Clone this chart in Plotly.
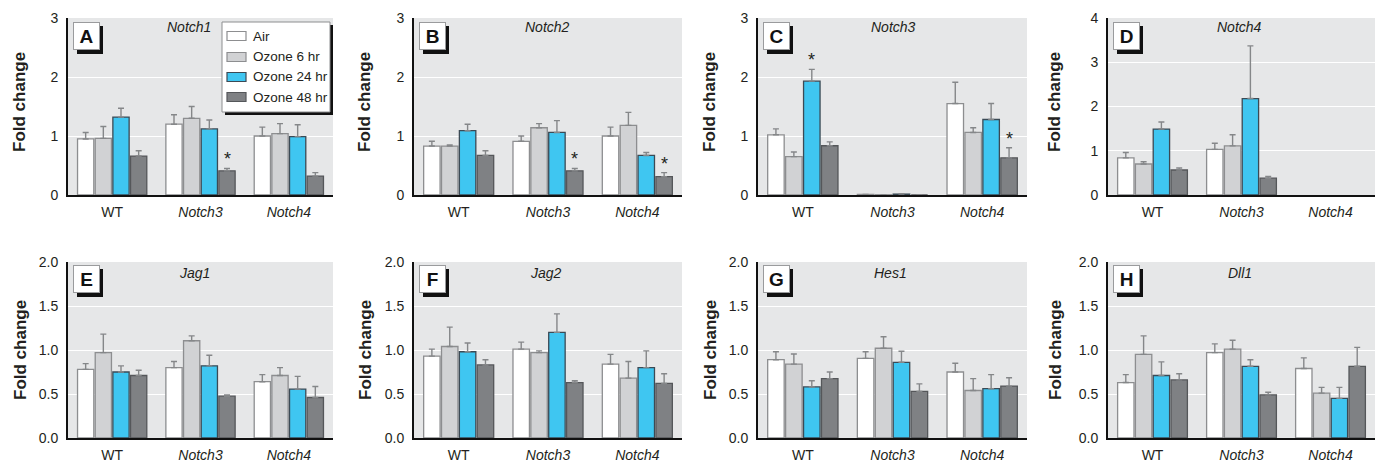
import plotly.graph_objects as go

W, H = 1383, 463

groups = ["WT", "Notch3", "Notch4"]
group_text = ["WT", "<i>Notch3</i>", "<i>Notch4</i>"]
series = ["Air", "Ozone 6 hr", "Ozone 24 hr", "Ozone 48 hr"]
fill_colors = ["#ffffff", "#d1d2d4", "#3fc6f1", "#7f8184"]
line_colors = ["#8d8e90", "#8d8e90", "#3b4a55", "#55575a"]

# rows = series (Air, 6 hr, 24 hr, 48 hr); columns = groups (WT, Notch3, Notch4)
notch1_mean = [[0.95, 1.20, 1.00], [0.96, 1.30, 1.04], [1.32, 1.12, 0.99], [0.66, 0.41, 0.32]]
notch1_sem = [[0.11, 0.16, 0.15], [0.20, 0.20, 0.17], [0.15, 0.15, 0.20], [0.09, 0.04, 0.06]]
notch2_mean = [[0.83, 0.91, 1.00], [0.83, 1.14, 1.18], [1.09, 1.06, 0.67], [0.67, 0.41, 0.31]]
notch2_sem = [[0.08, 0.09, 0.15], [0.02, 0.07, 0.22], [0.11, 0.20, 0.05], [0.08, 0.04, 0.07]]
notch3_mean = [[1.02, 0.01, 1.55], [0.65, 0.005, 1.06], [1.93, 0.015, 1.28], [0.835, 0.0, 0.63]]
notch3_sem = [[0.10, 0.0, 0.36], [0.08, 0.0, 0.08], [0.20, 0.005, 0.27], [0.065, 0.0, 0.17]]
notch4_mean = [[0.84, 1.03, None], [0.70, 1.11, None], [1.49, 2.18, None], [0.565, 0.38, None]]
notch4_sem = [[0.12, 0.14, 0], [0.05, 0.25, 0], [0.16, 1.19, 0], [0.045, 0.04, 0]]
jag1_mean = [[0.78, 0.80, 0.64], [0.97, 1.105, 0.71], [0.75, 0.82, 0.555], [0.71, 0.475, 0.46]]
jag1_sem = [[0.065, 0.07, 0.08], [0.21, 0.055, 0.09], [0.07, 0.12, 0.145], [0.06, 0.015, 0.125]]
jag2_mean = [[0.93, 1.01, 0.84], [1.04, 0.97, 0.68], [0.98, 1.20, 0.80], [0.83, 0.63, 0.62]]
jag2_sem = [[0.08, 0.08, 0.11], [0.22, 0.02, 0.19], [0.10, 0.21, 0.19], [0.06, 0.02, 0.11]]
hes1_mean = [[0.89, 0.905, 0.75], [0.84, 1.02, 0.54], [0.58, 0.86, 0.56], [0.675, 0.53, 0.59]]
hes1_sem = [[0.09, 0.075, 0.10], [0.115, 0.13, 0.135], [0.07, 0.125, 0.16], [0.075, 0.085, 0.095]]
dll1_mean = [[0.63, 0.97, 0.79], [0.95, 1.01, 0.51], [0.71, 0.815, 0.45], [0.66, 0.49, 0.815]]
dll1_sem = [[0.09, 0.10, 0.12], [0.21, 0.10, 0.065], [0.155, 0.075, 0.125], [0.07, 0.03, 0.215]]

# significance marks: (group index, series index)
notch1_sig = [(1, 3)]
notch2_sig = [(1, 3), (2, 3)]
notch3_sig = [(0, 2), (2, 3)]
none_sig = []

panel_letters = ["A", "B", "C", "D", "E", "F", "G", "H"]
panel_genes = ["Notch1", "Notch2", "Notch3", "Notch4", "Jag1", "Jag2", "Hes1", "Dll1"]
panel_means = [notch1_mean, notch2_mean, notch3_mean, notch4_mean, jag1_mean, jag2_mean, hes1_mean, dll1_mean]
panel_sems = [notch1_sem, notch2_sem, notch3_sem, notch4_sem, jag1_sem, jag2_sem, hes1_sem, dll1_sem]
panel_sigs = [notch1_sig, notch2_sig, notch3_sig, none_sig, none_sig, none_sig, none_sig, none_sig]
panel_ymax = [3, 3, 3, 4, 2, 2, 2, 2]
panel_dtick = [1, 1, 1, 1, 0.5, 0.5, 0.5, 0.5]
panel_fmt = ["d", "d", "d", "d", ".1f", ".1f", ".1f", ".1f"]

# layout geometry in pixels
col_x = [(68, 333), (414, 682), (758, 1027), (1108, 1375)]
row_y = [(18, 195), (262, 438)]
row_xtick_len = [3, 3]
ytitle_x = [20, 365, 710, 1055]
ytitle_y = [102, 350]
gene_x = [189, 547, 893, 1239, 194, 546, 890, 1240]
gene_y = [27, 273]

FONT = "Liberation Sans, Arial, sans-serif"
TXT = "#231f20"


def px(x):
    return x / W


def py(y):
    return 1 - y / H


fig = go.Figure()
annotations = []
shapes = []
layout = {}

for i in range(8):
    r, c = divmod(i, 4)
    n = i + 1
    xa = "x" if n == 1 else f"x{n}"
    ya = "y" if n == 1 else f"y{n}"
    xkey = "xaxis" if n == 1 else f"xaxis{n}"
    ykey = "yaxis" if n == 1 else f"yaxis{n}"
    x0, x1 = col_x[c]
    y0, y1 = row_y[r]
    means = panel_means[i]
    sems = panel_sems[i]
    for s in range(4):
        fig.add_trace(go.Bar(
            x=groups, y=means[s], name=series[s], xaxis=xa, yaxis=ya,
            marker=dict(color=fill_colors[s], line=dict(color=line_colors[s], width=1.3)),
            error_y=dict(type="data", symmetric=False, array=sems[s], arrayminus=[0, 0, 0],
                         color="#858789", thickness=1.4, width=3),
            showlegend=False, offsetgroup=str(s), hoverinfo="skip",
        ))
    layout[xkey] = dict(
        domain=[px(x0), px(x1)], anchor=ya, showline=True, linecolor="#111", linewidth=2,
        ticks="outside", ticklen=row_xtick_len[r], tickcolor="rgba(0,0,0,0)",
        tickmode="array", tickvals=groups, ticktext=group_text,
        showgrid=False, zeroline=False, range=[-0.5, 2.5], automargin=False,
        tickfont=dict(size=14, color=TXT, family=FONT), fixedrange=True,
    )
    layout[ykey] = dict(
        domain=[py(y1), py(y0)], anchor=xa, range=[0, panel_ymax[i]], dtick=panel_dtick[i],
        tickformat=panel_fmt[i], showline=True, linecolor="#111", linewidth=2,
        ticks="outside", ticklen=5, tickcolor="rgba(0,0,0,0)", automargin=False,
        showgrid=True, gridcolor="#ffffff", gridwidth=1.2, zeroline=False,
        tickfont=dict(size=14, color=TXT, family=FONT), fixedrange=True,
    )
    # plot background per panel
    shapes.append(dict(type="rect", xref="paper", yref="paper", x0=px(x0), x1=px(x1),
                       y0=py(y1), y1=py(y0), fillcolor="#e6e7e8", line=dict(width=0), layer="below"))
    # gene name
    annotations.append(dict(x=px(gene_x[i]), y=py(gene_y[r]), xref="paper", yref="paper",
                            xanchor="center", yanchor="middle",
                            text=f"<i>{panel_genes[i]}</i>", showarrow=False,
                            font=dict(size=14, color=TXT, family=FONT)))
    # y axis title
    annotations.append(dict(x=px(ytitle_x[c]), y=py(ytitle_y[r]), xref="paper", yref="paper",
                            xanchor="center", yanchor="middle",
                            text="<b>Fold change</b>", textangle=-90, showarrow=False,
                            font=dict(size=17, color=TXT, family=FONT)))
    # panel letter box with shadow
    bx0 = x0 + 5
    by0 = y0 + (4 if r == 0 else 3)
    shapes.append(dict(type="rect", xref="paper", yref="paper", x0=px(bx0 + 4), x1=px(bx0 + 30),
                       y0=py(by0 + 32), y1=py(by0 + 4), fillcolor="#111", line=dict(width=0),
                       layer="above"))
    annotations.append(dict(x=px(bx0 + 13.5), y=py(by0 + 14), xref="paper", yref="paper",
                            xanchor="center", yanchor="middle",
                            text=f"<b>{panel_letters[i]}</b>", showarrow=False,
                            width=25, height=26, bgcolor="#ffffff", bordercolor="#9a9b9d",
                            borderwidth=1, borderpad=0,
                            font=dict(size=19, color="#111", family=FONT)))
    # significance stars
    for (g, s) in panel_sigs[i]:
        top = means[s][g] + sems[s][g]
        annotations.append(dict(x=g - 0.3 + 0.2 * s, y=top, xref=xa, yref=ya, text="*",
                                showarrow=False, xanchor="center", yanchor="bottom", yshift=-3,
                                font=dict(size=18, color=TXT, family=FONT)))

# manual legend in panel A
leg_x0, leg_x1, leg_y0, leg_y1 = 222, 330, 22, 112
shapes.append(dict(type="rect", xref="paper", yref="paper", x0=px(leg_x0 + 3), x1=px(leg_x1 + 3),
                   y0=py(leg_y1 + 3), y1=py(leg_y0 + 3), fillcolor="#111", line=dict(width=0),
                   layer="above"))
shapes.append(dict(type="rect", xref="paper", yref="paper", x0=px(leg_x0), x1=px(leg_x1),
                   y0=py(leg_y1), y1=py(leg_y0), fillcolor="#ffffff",
                   line=dict(color="#8d8e90", width=1), layer="above"))
leg_cy = [36, 57, 77, 97]
for s in range(4):
    cy = leg_cy[s]
    shapes.append(dict(type="rect", xref="paper", yref="paper", x0=px(227), x1=px(246),
                       y0=py(cy + 4.5), y1=py(cy - 4.5), fillcolor=fill_colors[s],
                       line=dict(color=line_colors[s], width=1.2), layer="above"))
    annotations.append(dict(x=px(251), y=py(cy), xref="paper", yref="paper",
                            xanchor="left", yanchor="middle", text=series[s], showarrow=False,
                            font=dict(size=13.5, color=TXT, family=FONT)))

fig.update_layout(
    width=W, height=H, margin=dict(l=0, r=0, t=0, b=0, autoexpand=False),
    paper_bgcolor="#ffffff", plot_bgcolor="rgba(0,0,0,0)",
    barmode="group", bargap=0.2, bargroupgap=0.08,
    font=dict(family=FONT, color=TXT, size=14),
    showlegend=False,
    annotations=annotations, shapes=shapes,
    **layout,
)

fig.write_html("out.html")
